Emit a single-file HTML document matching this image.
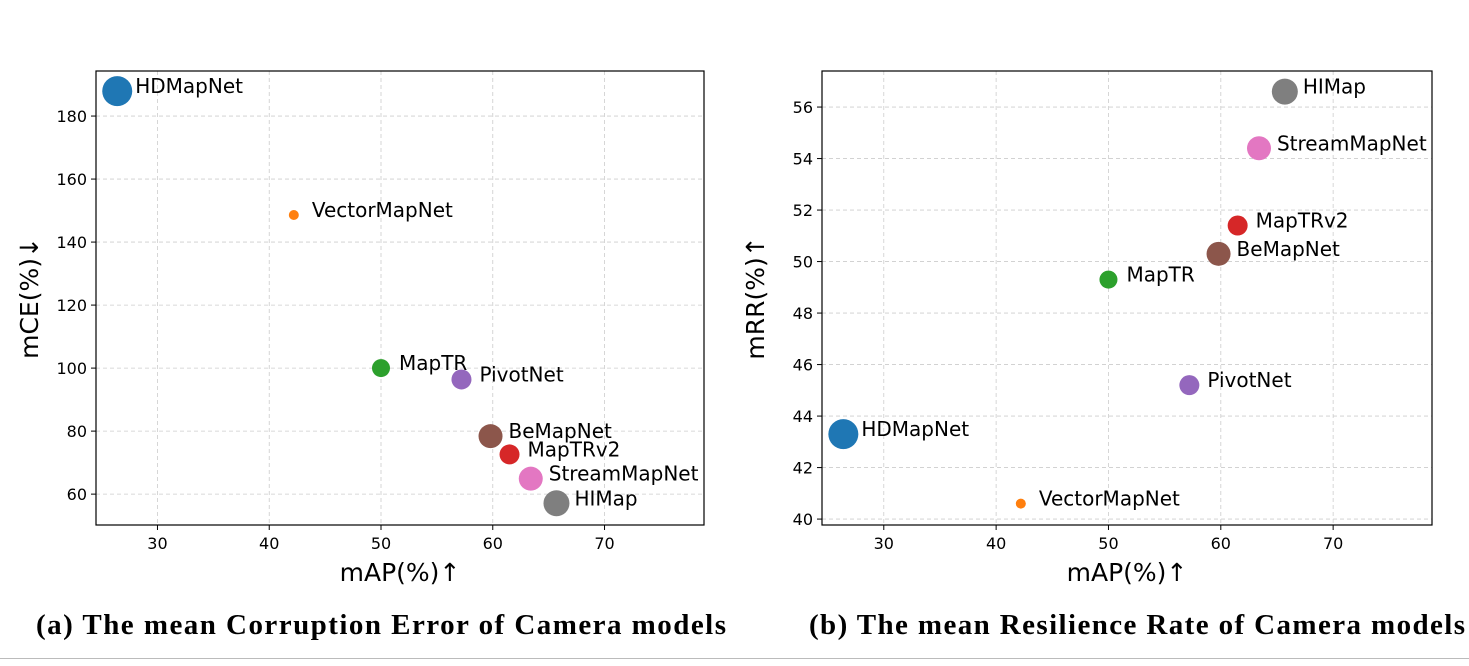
<!DOCTYPE html>
<html><head><meta charset="utf-8"><style>
body{margin:0;background:#fff;width:1469px;height:661px;overflow:hidden}
svg text{font-family:"DejaVu Sans","Liberation Sans",sans-serif}
</style></head><body>
<svg id="s" width="1469" height="661" xmlns="http://www.w3.org/2000/svg">
<line x1="0" y1="658.5" x2="1469" y2="658.5" stroke="#bbb"/>
<text x="36" y="634" textLength="690" lengthAdjust="spacing" font-size="29" font-weight="bold" style="font-family:'Liberation Serif',serif">(a) The mean Corruption Error of Camera models</text>
<text x="809" y="634" textLength="656" lengthAdjust="spacing" font-size="29" font-weight="bold" style="font-family:'Liberation Serif',serif">(b) The mean Resilience Rate of Camera models</text>
</svg>
<script>
const models=["HDMapNet","VectorMapNet","MapTR","PivotNet","BeMapNet","MapTRv2","StreamMapNet","HIMap"];
const mAP=[26.4,42.2,50.0,57.2,59.8,61.5,63.4,65.7];
const mCE=[187.9,148.6,100.0,96.4,78.4,72.6,64.9,57.1];
const mRR=[43.3,40.6,49.3,45.2,50.3,51.4,54.4,56.6];
const sizes=[15,5,9,10,12,10,12,13];
const colors=["#1f77b4","#ff7f0e","#2ca02c","#9467bd","#8c564b","#d62728","#e377c2","#7f7f7f"];
const xTicks=[30,40,50,60,70];
const yTicksA=[60,80,100,120,140,160,180];
const yTicksB=[40,42,44,46,48,50,52,54,56];
const svg=document.getElementById('s');
const NS="http://www.w3.org/2000/svg";
function mk(t,a,p){const e=document.createElementNS(NS,t);for(const k in a)e.setAttribute(k,a[k]);(p||svg).appendChild(e);return e;}
function panel(id,L,R,T,B,xmin,xmax,ymin,ymax,yVals,yTicks,yTitle){
  const g=mk('g',{});
  
  
  const sx=v=>L+(v-xmin)/(xmax-xmin)*(R-L);
  const sy=v=>B-(v-ymin)/(ymax-ymin)*(B-T);
  xTicks.forEach(v=>{
    const x=sx(v);
    const gl=mk('line',{x1:x,x2:x,y1:T,y2:B,stroke:'#ccc','stroke-dasharray':'4,3','stroke-width':0.8},g);
    
    
    mk('line',{x1:x,x2:x,y1:B,y2:B+5,stroke:'#000'},g);
    const t=mk('text',{x:x,y:B+24,'text-anchor':'middle','font-size':16},g);t.textContent=v;
    
    
  });
  yTicks.forEach(v=>{
    const y=sy(v);
    const gl=mk('line',{x1:L,x2:R,y1:y,y2:y,stroke:'#ccc','stroke-dasharray':'4,3','stroke-width':0.8},g);
    
    
    mk('line',{x1:L-5,x2:L,y1:y,y2:y,stroke:'#000'},g);
    const t=mk('text',{x:L-9,y:y+6,'text-anchor':'end','font-size':16},g);t.textContent=v;
    
    
  });
  const fr=mk('rect',{x:L,y:T,width:R-L,height:B-T,fill:'none',stroke:'#000','stroke-width':1.2},g);
  
  
  models.forEach((m,i)=>{
    const cx=sx(mAP[i]),cy=sy(yVals[i]);
    const c=mk('circle',{cx:cx,cy:cy,r:sizes[i],fill:colors[i]},g);
    
    
    const t=mk('text',{x:cx+18,y:cy+2,'font-size':20},g);t.textContent=m;
    
    
  });
  const xt=mk('text',{x:(L+R)/2,y:B+56,'text-anchor':'middle','font-size':25},g);xt.textContent='mAP(%)↑';
  
  
  const yx=L-58,yy=(T+B)/2;
  const yt=mk('text',{x:yx,y:yy,'text-anchor':'middle','font-size':25,transform:`rotate(-90 ${yx} ${yy})`},g);yt.textContent=yTitle;
  
  
}
panel('a',96,704,71,525,24.5,78.9,50.2,194.3,mCE,yTicksA,'mCE(%)↓');
panel('b',822,1432,71,525,24.5,78.8,39.77,57.4,mRR,yTicksB,'mRR(%)↑');
</script>
</body></html>
